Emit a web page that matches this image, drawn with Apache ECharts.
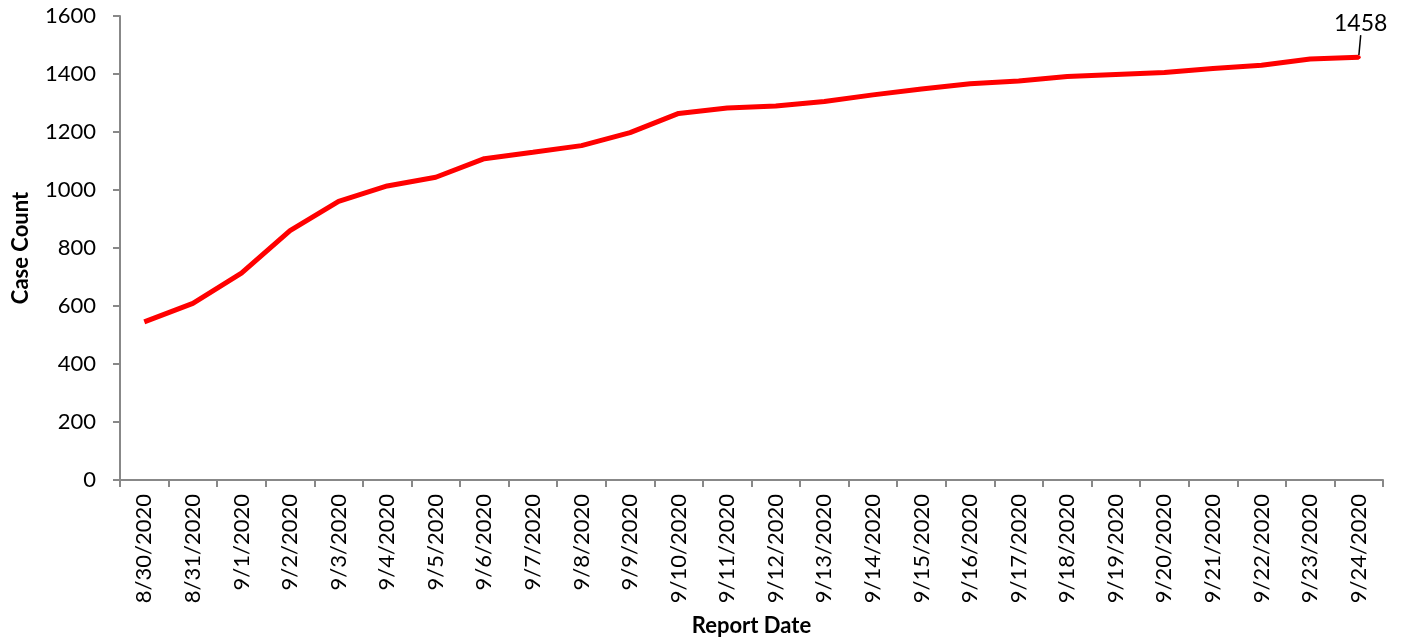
<!DOCTYPE html>
<html>
<head>
<meta charset="utf-8">
<style>
  html, body { margin: 0; padding: 0; background: #fff; }
  #main { width: 1416px; height: 640px; }
</style>
<script src="https://cdn.jsdelivr.net/npm/echarts@6/dist/echarts.min.js"></script>
</head>
<body>
<div id="main"></div>
<script>
// report dates and cumulative case counts
const reportDates = [
  "8/30/2020", "8/31/2020", "9/1/2020", "9/2/2020", "9/3/2020", "9/4/2020",
  "9/5/2020", "9/6/2020", "9/7/2020", "9/8/2020", "9/9/2020", "9/10/2020",
  "9/11/2020", "9/12/2020", "9/13/2020", "9/14/2020", "9/15/2020", "9/16/2020",
  "9/17/2020", "9/18/2020", "9/19/2020", "9/20/2020", "9/21/2020", "9/22/2020",
  "9/23/2020", "9/24/2020"
];
const caseCounts = [
  545, 609, 713, 860, 961, 1014, 1044, 1108, 1130, 1153, 1198, 1264,
  1283, 1290, 1305, 1328, 1348, 1366, 1376, 1391, 1398, 1405, 1419, 1430,
  1452, 1458
];
const yTicks = { min: 0, max: 1600, interval: 200 };

const lastIdx = caseCounts.length - 1;
const fontName = "Lato";

let chart = echarts.init(document.getElementById("main"));
chart.setOption({
  animation: false,
  grid: { left: 120, right: 33, top: 16, bottom: 160, outerBoundsMode: "none" },
  xAxis: {
    type: "category",
    data: reportDates,
    boundaryGap: true,
    name: "Report Date",
    nameLocation: "middle",
    nameGap: 135,
    nameTextStyle: { color: "#000", fontFamily: fontName, fontSize: 22, fontWeight: "bold" },
    axisLine: { lineStyle: { color: "#888888", width: 2 } },
    axisTick: { show: true, length: 7, alignWithLabel: false, lineStyle: { color: "#888888", width: 2 } },
    axisLabel: {
      interval: 0,
      rotate: 90,
      margin: 14,
      color: "#000",
      fontFamily: fontName,
      fontSize: 22
    },
    splitLine: { show: false }
  },
  yAxis: {
    type: "value",
    min: yTicks.min,
    max: yTicks.max,
    interval: yTicks.interval,
    name: "Case Count",
    nameLocation: "middle",
    nameGap: 88,
    nameTextStyle: { color: "#000", fontFamily: fontName, fontSize: 22, fontWeight: "bold" },
    axisLine: { show: true, lineStyle: { color: "#888888", width: 2 } },
    axisTick: { show: true, length: 7, lineStyle: { color: "#888888", width: 2 } },
    axisLabel: {
      margin: 24,
      color: "#000",
      fontFamily: fontName,
      fontSize: 22,
      formatter: (v) => String(v)
    },
    splitLine: { show: false }
  },
  series: [
    {
      type: "line",
      data: caseCounts.map((v, i) => i === lastIdx
        ? { value: v, label: { show: true }, labelLine: { show: true } }
        : v),
      showSymbol: true,
      symbol: "circle",
      symbolSize: (val, params) => (params.dataIndex === lastIdx ? 4 : 0),
      lineStyle: { color: "#ff0000", width: 5 },
      itemStyle: { color: "#ff0000" },
      label: {
        show: false,
        position: "top",
        distance: 5,
        color: "#000",
        fontFamily: fontName,
        fontSize: 23
      },
      labelLine: { show: false, lineStyle: { color: "#000", width: 1.5 } },
      labelLayout: function (params) {
        if (params.dataIndex === lastIdx) {
          return { dx: 2, dy: -15 };
        }
      }
    }
  ]
});
</script>
</body>
</html>
